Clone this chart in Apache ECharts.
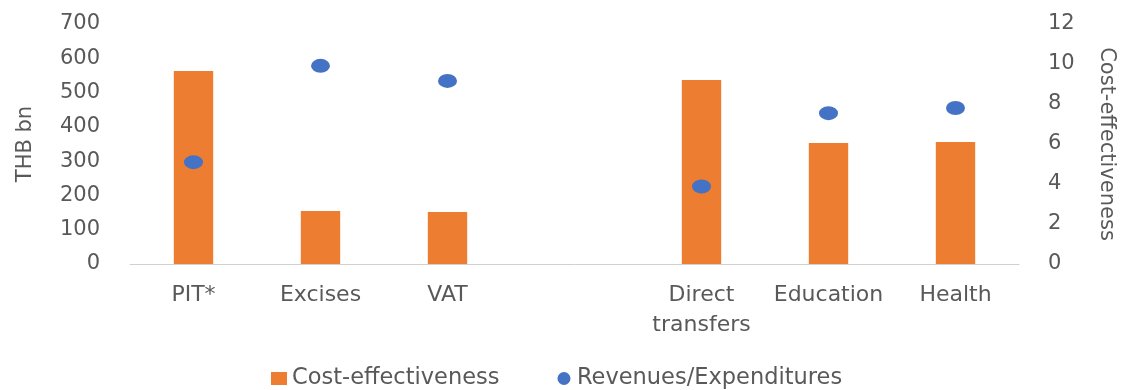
<!DOCTYPE html>
<html>
<head>
<meta charset="utf-8">
<script src="https://cdn.jsdelivr.net/npm/echarts@6/dist/echarts.min.js"></script>
<style>
  html, body { margin: 0; padding: 0; background: #ffffff; }
  #chart { width: 1121px; height: 390px; }
</style>
</head>
<body>
<div id="chart"></div>
<script>
// Categories (blank slot separates revenue items from spending items)
const categories = ['PIT*', 'Excises', 'VAT', '', 'Direct\ntransfers', 'Education', 'Health'];

// Cost-effectiveness ratio (right axis)
const costEffectiveness = [9.65, 2.65, 2.6, null, 9.2, 6.05, 6.1];

// Revenues / expenditures, THB bn (left axis)
const revenuesExpenditures = [297, 578, 534, null, 226, 440, 455];

// Axis ranges
const leftMax = 700, leftStep = 100;
const rightMax = 12, rightStep = 2;

const textColor = '#595959';
const font = 'DejaVu Sans';

const chart = echarts.init(document.getElementById('chart'), null, { renderer: 'canvas' });

chart.setOption({
  animation: false,
  textStyle: { fontFamily: font, color: textColor },
  grid: { left: 130, right: 102, top: 24, bottom: 126, containLabel: false, outerBoundsMode: 'none' },
  legend: {
    top: 362,
    left: 266,
    itemGap: 58,
    itemWidth: 16,
    itemHeight: 13,
    textStyle: { fontFamily: font, fontSize: 22.5, color: textColor },
    data: [
      { name: 'Cost-effectiveness', icon: 'rect' },
      { name: 'Revenues/Expenditures', icon: 'circle' }
    ]
  },
  xAxis: {
    type: 'category',
    data: categories,
    axisLine: { lineStyle: { color: '#d0d0d0', width: 1 } },
    axisTick: { show: false },
    axisLabel: {
      interval: 0,
      fontFamily: font,
      fontSize: 22,
      color: textColor,
      margin: 16,
      lineHeight: 30
    }
  },
  yAxis: [
    {
      type: 'value',
      min: 0,
      max: leftMax,
      interval: leftStep,
      name: 'THB bn',
      nameLocation: 'middle',
      nameGap: 94,
      nameTextStyle: { fontFamily: font, fontSize: 21, color: textColor },
      axisLine: { show: false },
      axisTick: { show: false },
      splitLine: { show: false },
      axisLabel: { fontFamily: font, fontSize: 21, color: textColor, margin: 30 }
    },
    {
      type: 'value',
      min: 0,
      max: rightMax,
      interval: rightStep,
      name: 'Cost-effectiveness',
      nameLocation: 'middle',
      nameRotate: -90,
      nameGap: 77,
      nameTextStyle: { fontFamily: font, fontSize: 21, color: textColor },
      axisLine: { show: false },
      axisTick: { show: false },
      splitLine: { show: false },
      axisLabel: { fontFamily: font, fontSize: 21, color: textColor, margin: 29 }
    }
  ],
  series: [
    {
      name: 'Cost-effectiveness',
      type: 'bar',
      yAxisIndex: 1,
      data: costEffectiveness,
      barWidth: '31%',
      itemStyle: { color: '#ED7D31' }
    },
    {
      name: 'Revenues/Expenditures',
      type: 'scatter',
      yAxisIndex: 0,
      data: revenuesExpenditures,
      symbol: 'circle',
      symbolSize: [19, 14],
      itemStyle: { color: '#4472C4', opacity: 1 }
    }
  ]
});
</script>
</body>
</html>
